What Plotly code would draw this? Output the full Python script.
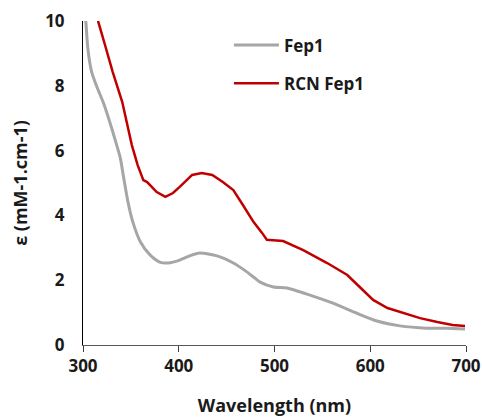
import plotly.graph_objects as go

# Fep1 (grey) readings
fep1_nm = [300, 303, 305, 309, 315, 321, 328, 333, 339, 342, 347, 352, 360, 370, 380, 389,
           401, 412, 422, 440, 457, 470, 478, 485, 499, 513, 537, 561, 586, 607, 631, 659, 680, 699]
fep1_eps = [11.0, 9.97, 9.17, 8.43, 7.93, 7.5, 6.88, 6.39, 5.77, 5.25, 4.41, 3.8, 3.18, 2.78, 2.56, 2.53,
            2.62, 2.76, 2.84, 2.75, 2.53, 2.28, 2.1, 1.94, 1.79, 1.76, 1.54, 1.29, 0.98, 0.74, 0.59, 0.52, 0.52, 0.49]

# RCN Fep1 (red) readings
rcn_nm = [314, 316, 323, 331, 341, 346, 351, 357, 363, 367, 377, 386, 394, 401, 414, 424,
          435, 446, 457, 467, 478, 487, 492, 509, 530, 555, 576, 589, 603, 618, 634, 652, 670, 686, 699]
rcn_eps = [10.5, 9.97, 9.26, 8.43, 7.5, 6.88, 6.17, 5.56, 5.09, 5.03, 4.72, 4.57, 4.69, 4.88, 5.25, 5.31,
           5.25, 5.03, 4.78, 4.32, 3.8, 3.46, 3.25, 3.21, 2.93, 2.53, 2.16, 1.79, 1.39, 1.14, 0.99, 0.83, 0.71, 0.62, 0.59]

x_ticks = [300, 400, 500, 600, 700]
y_ticks = [0, 2, 4, 6, 8, 10]

FONT = "Open Sans"

fig = go.Figure()
fig.add_trace(go.Scatter(x=fep1_nm, y=fep1_eps, mode="lines", name="Fep1",
                         legendgroup="a",
                         line=dict(color="#A6A6A6", width=3, shape="spline", smoothing=0.6)))
fig.add_trace(go.Scatter(x=rcn_nm, y=rcn_eps, mode="lines", name="RCN Fep1",
                         legendgroup="b",
                         line=dict(color="#C00000", width=2.5)))

fig.update_layout(
    width=482, height=420,
    margin=dict(l=83, r=16, t=21, b=75),
    paper_bgcolor="white", plot_bgcolor="white",
    font=dict(family=FONT, color="#1a1a1a"),
    showlegend=True,
    legend=dict(x=0.381, y=0.98, xanchor="left", yanchor="top",
                font=dict(size=17, family=FONT, weight="bold"),
                bgcolor="rgba(0,0,0,0)", tracegroupgap=13, itemwidth=45),
    xaxis=dict(range=[300, 700], tickvals=x_ticks, ticks="outside", ticklen=6,
               tickcolor="#404040", showline=True, linecolor="#595959", linewidth=1,
               showgrid=False, zeroline=False, automargin=False,
               tickfont=dict(size=17, family=FONT, weight="bold"),
               title=dict(text="Wavelength (nm)", font=dict(size=18, family=FONT, weight="bold"),
                          standoff=22)),
    yaxis=dict(range=[0, 10], tickvals=y_ticks, ticks="", showline=True,
               linecolor="#000000", linewidth=1, showgrid=False, zeroline=False,
               automargin=False, ticklabelstandoff=14,
               tickfont=dict(size=17, family=FONT, weight="bold"),
               title=dict(text="ε (mM-1.cm-1)", font=dict(size=18, family=FONT, weight="bold"),
                          standoff=12)),
)

fig.write_html("out.html")
